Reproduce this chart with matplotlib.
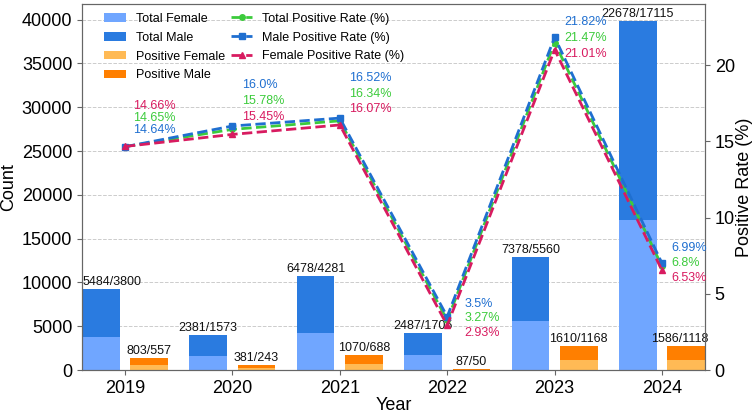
import matplotlib
matplotlib.use("Agg")
import matplotlib.pyplot as plt
import numpy as np

plt.rcParams['font.family'] = ['Liberation Sans', 'DejaVu Sans']

years = ['2019', '2020', '2021', '2022', '2023', '2024']
total_male = [5484, 2381, 6478, 2487, 7378, 22678]
total_female = [3800, 1573, 4281, 1705, 5560, 17115]
pos_male = [803, 381, 1070, 87, 1610, 1586]
pos_female = [557, 243, 688, 50, 1168, 1118]
rate_total = [14.65, 15.78, 16.34, 3.27, 21.47, 6.8]
rate_male = [14.64, 16.0, 16.52, 3.5, 21.82, 6.99]
rate_female = [14.66, 15.45, 16.07, 2.93, 21.01, 6.53]

c_tf = '#70A6FF'
c_tm = '#2A7BE0'
c_pf = '#FFBA55'
c_pm = '#FF7F00'
c_rt = '#3CCB3C'
c_rm = '#1F6FD0'
c_rf = '#D81B60'

fig = plt.figure(figsize=(7.54, 4.15), dpi=100)
ax = fig.add_axes([82/754, 45/415, 623/754, 366/415])
ax2 = ax.twinx()

x = np.arange(len(years))
w = 0.35
tm = np.array(total_male); tf = np.array(total_female)
pm = np.array(pos_male); pf = np.array(pos_female)

b1 = ax.bar(x - 0.4, tf, w, align='edge', color=c_tf, label='Total Female', zorder=2)
b2 = ax.bar(x - 0.4, tm, w, bottom=tf, align='edge', color=c_tm, label='Total Male', zorder=2)
b3 = ax.bar(x + 0.05, pf, w, align='edge', color=c_pf, label='Positive Female', zorder=2)
b4 = ax.bar(x + 0.05, pm, w, bottom=pf, align='edge', color=c_pm, label='Positive Male', zorder=2)

tot_nudge = [11, 0, 0, 0, 0, 0]
pos_nudge = [0, 0, 0, 0, 0, -6]
for i in range(len(years)):
    ax.annotate(f"{total_male[i]}/{total_female[i]}", xy=(x[i] - 0.4 + w/2, tm[i] + tf[i]),
                xytext=(tot_nudge[i], 1), textcoords='offset pixels',
                ha='center', va='bottom', fontsize=9, color='#111111', zorder=5)
    ax.annotate(f"{pos_male[i]}/{pos_female[i]}", xy=(x[i] + 0.05 + w/2, pm[i] + pf[i]),
                xytext=(pos_nudge[i], 1), textcoords='offset pixels',
                ha='center', va='bottom', fontsize=9, color='#111111', zorder=5)

ax.set_xlim(-0.4, 5.4)
ax.set_ylim(0, (tm + tf).max() * 1.05)
ax.set_yticks(np.arange(0, 40001, 5000))
ax.set_xticks(x)
ax.set_xticklabels(years)
ax.tick_params(axis='both', labelsize=13, color='#666666')
ax.set_xlabel('Year', fontsize=13, labelpad=0)
ax.set_ylabel('Count', fontsize=13, labelpad=3)
ax.grid(axis='y', linestyle='--', color='#cccccc', linewidth=0.7, zorder=0)
ax.set_axisbelow(True)

l1, = ax2.plot(x, rate_total, linestyle='--', marker='o', color=c_rt, lw=2, ms=4, label='Total Positive Rate (%)', zorder=3)
l2, = ax2.plot(x, rate_male, linestyle='--', marker='s', color=c_rm, lw=2, ms=5, label='Male Positive Rate (%)', zorder=3)
l3, = ax2.plot(x, rate_female, linestyle='--', marker='^', color=c_rf, lw=2, ms=5, label='Female Positive Rate (%)', zorder=3)
ax2.set_ylim(0, max(rate_male) * 1.1)
ax2.set_yticks([0, 5, 10, 15, 20])
ax2.tick_params(axis='y', labelsize=13, color='#666666')
ax2.set_ylabel('Positive Rate (%)', fontsize=13, labelpad=1)

for a in (ax, ax2):
    for s in a.spines.values():
        s.set_color('#666666')

# rate annotations: (dx, dy_top, spacing) in pixels relative to max point
ann = [(8, 40, 12), (10, 41, 16), (9, 40, 15.5), (17, 13, 14.5), (10, 15, 16), (9, 15, 15)]
for i in range(len(years)):
    items = [(rate_total[i], c_rt), (rate_male[i], c_rm), (rate_female[i], c_rf)]
    items.sort(key=lambda t: -t[0])
    top = items[0][0]
    dx, dy, sp = ann[i]
    for k, (v, c) in enumerate(items):
        ax2.annotate(f"{v}%", xy=(x[i], top), xytext=(dx, dy - k * sp),
                     textcoords='offset pixels', ha='left', va='center',
                     fontsize=9, color=c, zorder=6)

handles = [b1, b2, b3, b4, l1, l2, l3]
labels = [h.get_label() for h in handles]
ax2.legend(handles, labels, loc='upper left', ncol=2, frameon=False, fontsize=9,
           bbox_to_anchor=(0.022, 1.0), columnspacing=0.5, handlelength=1.7,
           labelspacing=0.55, borderaxespad=0.3)

fig.savefig('out.png', dpi=100)
